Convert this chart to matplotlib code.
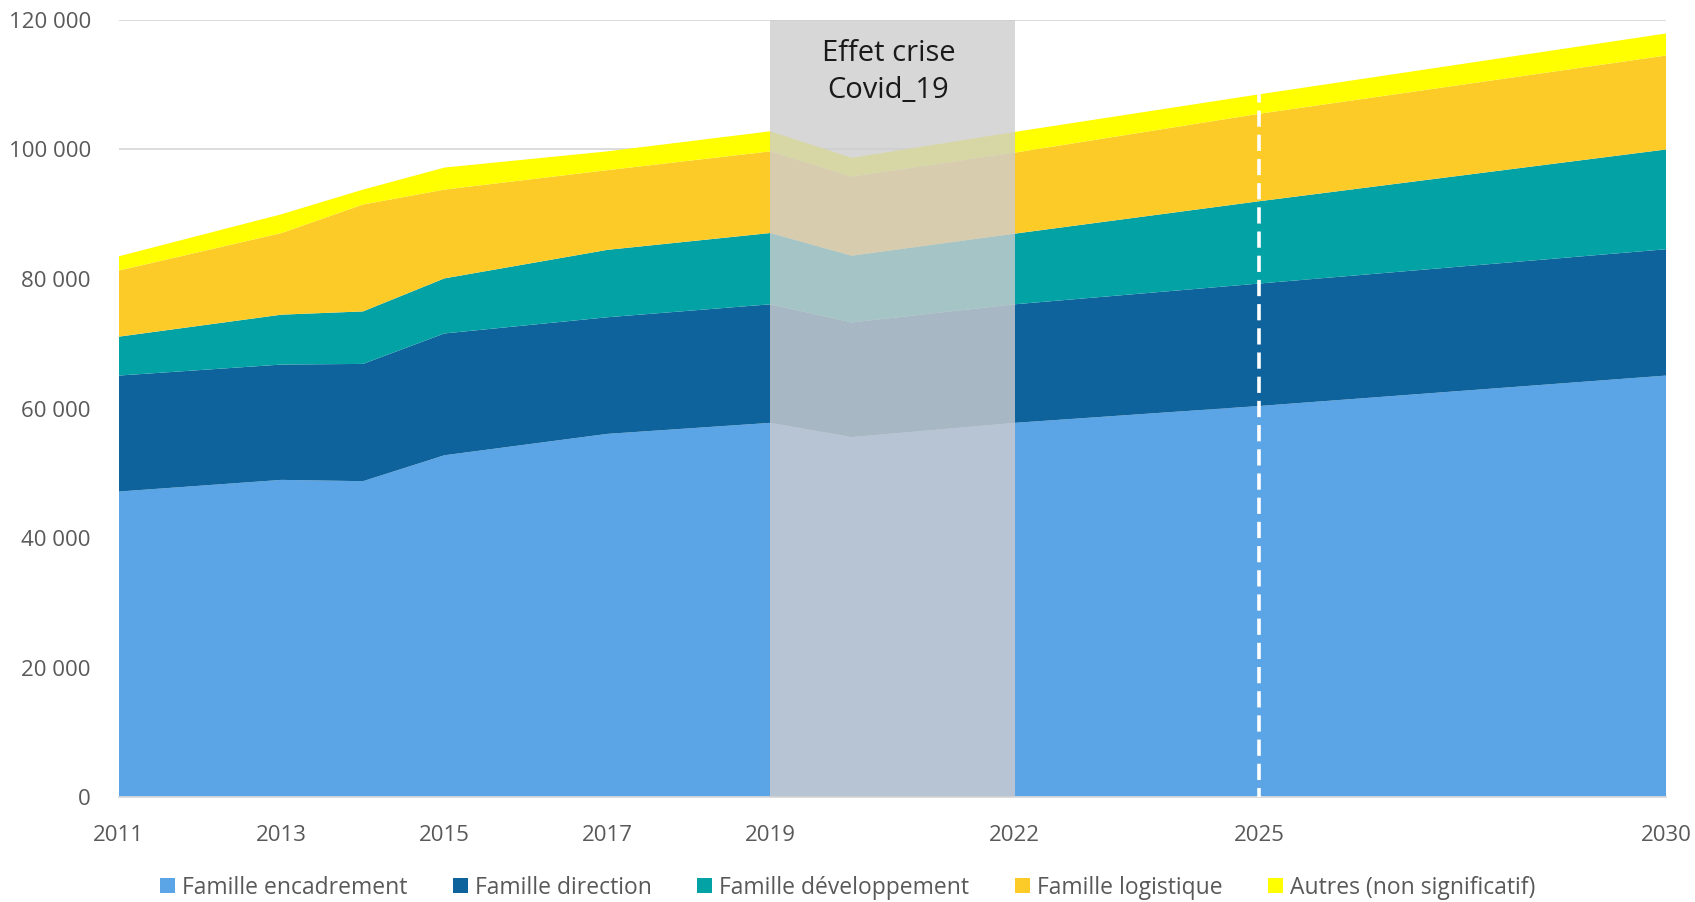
import numpy as np
import matplotlib.pyplot as plt
from matplotlib.patches import Patch

plt.rcParams['font.family'] = ['Open Sans', 'DejaVu Sans']

years = [2011, 2013, 2014, 2015, 2017, 2019, 2020, 2022, 2025, 2030]
tick_years = [2011, 2013, 2015, 2017, 2019, 2022, 2025, 2030]

top_encadrement = [47200, 49000, 48800, 52800, 56100, 57800, 55600, 57800, 60400, 65100]
top_direction = [65100, 66800, 66900, 71600, 74100, 76100, 73300, 76100, 79300, 84600]
top_developpement = [71100, 74500, 75000, 80100, 84500, 87100, 83600, 87000, 92000, 100000]
top_logistique = [81300, 87100, 91500, 93800, 96800, 99700, 95800, 99500, 105500, 114500]
top_autres = [83500, 90000, 93800, 97200, 99700, 102800, 98700, 102700, 108500, 117900]

labels = ['Famille encadrement', 'Famille direction', 'Famille développement',
          'Famille logistique', 'Autres (non significatif)']
colors = ['#5BA5E6', '#0E639C', '#03A2A4', '#FDCB28', '#FFFF00']

tops = np.array([top_encadrement, top_direction, top_developpement, top_logistique, top_autres])
layers = np.diff(np.vstack([np.zeros(len(years)), tops]), axis=0)

fig = plt.figure(figsize=(16.95, 9.02), dpi=100)
ax = fig.add_axes([0.070, 0.116, 0.913, 0.862])

ax.stackplot(years, layers, colors=colors, labels=labels, linewidth=0, zorder=2)

ax.set_xlim(2011, 2030)
ax.set_ylim(0, 120000)
ax.set_yticks(np.arange(0, 120001, 20000))
ax.set_yticklabels(['0' if v == 0 else f'{v // 1000} 000' for v in range(0, 120001, 20000)])
ax.set_xticks(tick_years)
ax.set_xticklabels([str(y) for y in tick_years])

ax.grid(axis='y', color='#D9D9D9', linewidth=1.3, zorder=0)
ax.set_axisbelow(True)
for s in ['top', 'right', 'left']:
    ax.spines[s].set_visible(False)
ax.spines['bottom'].set_color('#D9D9D9')
ax.spines['bottom'].set_linewidth(1.3)
ax.tick_params(length=0, labelsize=16, colors='#595959')
ax.tick_params(axis='x', pad=20)
ax.tick_params(axis='y', pad=20)

# covid band
ax.axvspan(2019, 2022, color='#CECDCF', alpha=0.8, linewidth=0, zorder=3)
ax.text(2020.45, 112000, 'Effet crise\nCovid_19', ha='center', va='center',
        fontsize=21, color='#1a1a1a', linespacing=1.35, zorder=4)

# 2025 marker
ax.plot([2025, 2025], [0, top_autres[8]], color='white', linewidth=2.6,
        linestyle=(2, (4.5, 2.2)), zorder=4)

handles = [Patch(facecolor=c, edgecolor='none') for c in colors]
fig.legend(handles, labels, loc='center', bbox_to_anchor=(0.5, 0.016), ncol=5,
           frameon=False, fontsize=16.5, labelcolor='#595959', handlelength=0.65,
           handleheight=0.65, handletextpad=0.3, columnspacing=2.0)

fig.savefig('out.png', dpi=100)
